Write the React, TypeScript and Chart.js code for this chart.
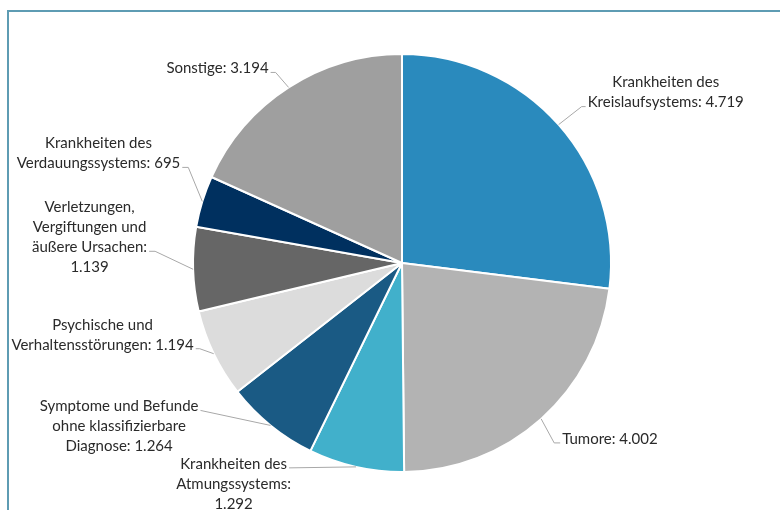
import React, { useEffect, useRef } from "react";
import { Chart, registerables } from "chart.js";

Chart.register(...registerables);

const categories = [
  "Krankheiten des\nKreislaufsystems",
  "Tumore",
  "Krankheiten des\nAtmungssystems",
  "Symptome und Befunde\nohne klassifizierbare\nDiagnose",
  "Psychische und\nVerhaltensstörungen",
  "Verletzungen,\nVergiftungen und\näußere Ursachen",
  "Krankheiten des\nVerdauungssystems",
  "Sonstige",
];
const values = [4719, 4002, 1292, 1264, 1194, 1139, 695, 3194];
const valueOnNewLine = [false, false, true, false, false, true, false, false];
const colors = [
  "#2a8abd",
  "#b3b3b3",
  "#41b0cb",
  "#1a5a84",
  "#dcdcdc",
  "#666666",
  "#00305f",
  "#9f9f9f",
];

// label placement: leader elbow offset from the slice edge point, tail length, line the leader attaches to
const labelLayout = [
  { side: 1, elbow: [23, -18], tail: 4, line: 1 },
  { side: 1, elbow: [13, 24], tail: 6, line: 0 },
  { side: -1, elbow: [-67, 1], tail: 0, line: 0 },
  { side: -1, elbow: [-70, -15], tail: 0, line: 0 },
  { side: -1, elbow: [-14, -5], tail: 4, line: 1 },
  { side: -1, elbow: [-38, -18], tail: 6, line: 2 },
  { side: -1, elbow: [-14, -34], tail: 6, line: 1 },
  { side: -1, elbow: [-13, -15], tail: 5, line: 0 },
];

const FONT = "15px Lato";
const LINE_H = 20;

const fmt = (v: number) => String(v).replace(/\B(?=(\d{3})+(?!\d))/g, ".");

const labelPlugin = {
  id: "pieLabels",
  afterDatasetsDraw(chart: any) {
    const ctx = chart.ctx as CanvasRenderingContext2D;
    const meta = chart.getDatasetMeta(0);
    ctx.save();
    ctx.font = FONT;
    meta.data.forEach((arc: any, i: number) => {
      const lay = labelLayout[i];
      const mid = (arc.startAngle + arc.endAngle) / 2;
      const R = arc.outerRadius;
      const ex = arc.x + Math.cos(mid) * R;
      const ey = arc.y + Math.sin(mid) * R;
      const bx = ex + lay.elbow[0];
      const by = ey + lay.elbow[1];
      const ax = bx + lay.side * lay.tail;
      ctx.strokeStyle = "#a8a8a8";
      ctx.lineWidth = 1;
      ctx.beginPath();
      ctx.moveTo(ex, ey);
      ctx.lineTo(bx, by);
      ctx.lineTo(ax, by);
      ctx.stroke();

      const text =
        categories[i] + ":" + (valueOnNewLine[i] ? "\n" : " ") + fmt(values[i]);
      const lines = text.split("\n");
      const wa = ctx.measureText(lines[lay.line]).width;
      const gap = 2;
      const cx = lay.side > 0 ? ax + gap + wa / 2 : ax - gap - wa / 2;
      const baseY = by - 4;
      ctx.fillStyle = "#2a2a2a";
      ctx.textAlign = "center";
      ctx.textBaseline = "middle";
      lines.forEach((ln, k) => {
        ctx.fillText(ln, cx, baseY + (k - lay.line) * LINE_H);
      });
    });
    ctx.restore();
  },
};

export default function App() {
  const ref = useRef<HTMLCanvasElement>(null);
  useEffect(() => {
    if (!ref.current) return;
    const chart = new Chart(ref.current, {
      type: "pie",
      data: {
        labels: categories.map((c) => c.replace(/\n/g, " ")),
        datasets: [
          {
            data: values,
            backgroundColor: colors,
            borderColor: "#ffffff",
            borderWidth: 2,
          },
        ],
      },
      options: {
        responsive: false,
        animation: false,
        layout: { padding: { left: 192, right: 168, top: 53, bottom: 37 } },
        plugins: {
          legend: { display: false },
          tooltip: { enabled: false },
        },
      },
      plugins: [labelPlugin],
    });
    return () => chart.destroy();
  }, []);
  return (
    <div
      style={{
        position: "absolute",
        left: 0,
        top: 0,
        width: 780,
        height: 510,
        background: "#ffffff",
        overflow: "hidden",
      }}
    >
      <div
        style={{
          position: "absolute",
          left: 7,
          top: 10,
          width: 800,
          height: 520,
          borderTop: "2px solid #5e9cb3",
          borderLeft: "2px solid #5e9cb3",
        }}
      />
      <canvas
        ref={ref}
        width={780}
        height={510}
        style={{ position: "absolute", left: 0, top: 0 }}
      />
    </div>
  );
}
